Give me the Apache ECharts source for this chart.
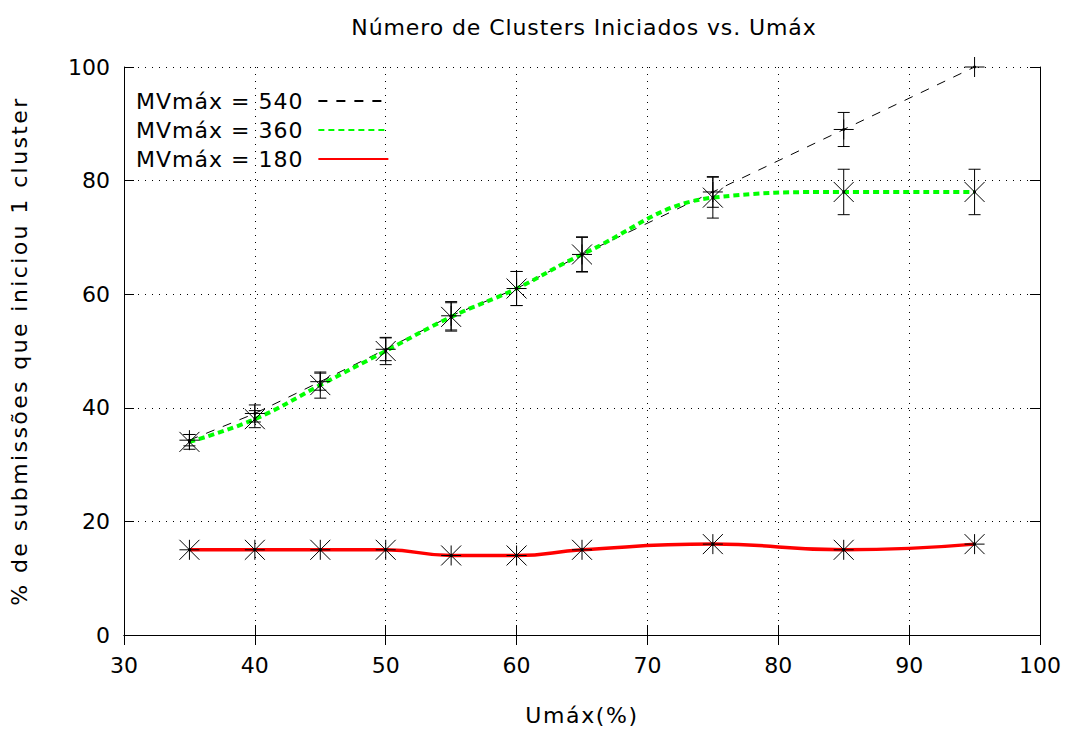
<!DOCTYPE html>
<html>
<head>
<meta charset="utf-8">
<script src="https://cdn.jsdelivr.net/npm/echarts@6/dist/echarts.min.js"></script>
<style>
  html, body { margin: 0; padding: 0; background: #fff; }
  #chart { width: 1071px; height: 731px; }
</style>
</head>
<body>
<div id="chart"></div>
<script>
// Umáx (%) values at which the runs were made
const umax = [35, 40, 45, 50, 55, 60, 65, 75, 85, 95];

// % of submissions that started one cluster, per MVmáx setting
const mv540 = [34.3, 39, 44.6, 50.3, 56.2, 61, 67, 78, 89, 100];
const err540 = [1, 1.5, 1.5, 2, 2.5, 3, 3, 2.7, 3, 0];

const mv360 = [34, 38, 44, 50, 56, 61, 67, 77, 78, 78];
const err360 = [1.3, 1.5, 2.3, 2.4, 2.5, 3, 3.1, 3.6, 4, 4];

const mv180 = [15, 15, 15, 15, 14, 14, 15, 16, 15, 16];

const seriesNames = ['MVmáx = 540', 'MVmáx = 360', 'MVmáx = 180'];
const xTicks = [30, 40, 50, 60, 70, 80, 90, 100];
const yTicks = [0, 20, 40, 60, 80, 100];

const titleText = 'Número de Clusters Iniciados vs. Umáx';
const xName = 'Umáx(%)';
const yName = '% de submissões que iniciou 1 cluster';

const FONT = 'DejaVu Sans';

function pairs(ys) { return umax.map((x, i) => [x, ys[i]]); }
function triples(ys, es) { return umax.map((x, i) => [x, ys[i], es ? es[i] : 0]); }

// Error bars and gnuplot-style point glyphs: 'plus', 'cross', 'star'
function glyphRenderer(kind) {
  return function (params, api) {
    const x = api.value(0), y = api.value(1), e = api.value(2);
    const c = api.coord([x, y]);
    const st = { stroke: '#000', lineWidth: 1 };
    const kids = [];
    if (e > 0) {
      const top = api.coord([x, y + e]);
      const bot = api.coord([x, y - e]);
      const cw = 6;
      kids.push({ type: 'line', shape: { x1: c[0], y1: top[1], x2: c[0], y2: bot[1] }, style: st });
      kids.push({ type: 'line', shape: { x1: c[0] - cw, y1: top[1], x2: c[0] + cw, y2: top[1] }, style: st });
      kids.push({ type: 'line', shape: { x1: c[0] - cw, y1: bot[1], x2: c[0] + cw, y2: bot[1] }, style: st });
    }
    const h = 10;
    if (kind === 'plus' || kind === 'star') {
      kids.push({ type: 'line', shape: { x1: c[0] - h, y1: c[1], x2: c[0] + h, y2: c[1] }, style: st });
      kids.push({ type: 'line', shape: { x1: c[0], y1: c[1] - h, x2: c[0], y2: c[1] + h }, style: st });
    }
    if (kind === 'cross' || kind === 'star') {
      kids.push({ type: 'line', shape: { x1: c[0] - h, y1: c[1] - h, x2: c[0] + h, y2: c[1] + h }, style: st });
      kids.push({ type: 'line', shape: { x1: c[0] - h, y1: c[1] + h, x2: c[0] + h, y2: c[1] - h }, style: st });
    }
    kids.push({ type: 'circle', shape: { cx: c[0], cy: c[1], r: 1.5 }, style: { fill: '#000' } });
    return { type: 'group', children: kids };
  };
}

const gridDots = { show: true, lineStyle: { color: '#000', width: 1, type: [1, 6] } };
const axisEdge = { show: true, lineStyle: { color: '#000', width: 1 } };
const innerTicks = { show: true, inside: true, length: 10, lineStyle: { color: '#000' } };

const chart = echarts.init(document.getElementById('chart'), null, { renderer: 'svg' });
chart.setOption({
  backgroundColor: '#fff',
  animation: false,
  title: {
    text: titleText,
    left: 579, top: 11, textAlign: 'center',
    textStyle: { fontFamily: FONT, fontSize: 22, fontWeight: 'normal', color: '#000' }
  },
  legend: {
    data: seriesNames,
    orient: 'vertical',
    left: 142, top: 85,
    align: 'right',
    itemWidth: 70, itemHeight: 14, itemGap: 7,
    itemStyle: { color: 'transparent', borderColor: 'transparent', borderWidth: 0 },
    textStyle: { fontFamily: FONT, fontSize: 22, color: '#000', padding: [0, 10, 0, 0] }
  },
  grid: { left: 123, right: 31, top: 67, bottom: 92, containLabel: false },
  xAxis: [{
    type: 'value', min: 30, max: 100, interval: 10,
    name: xName, nameLocation: 'middle', nameGap: 69,
    nameTextStyle: { fontFamily: FONT, fontSize: 22, color: '#000' },
    axisLine: axisEdge, axisTick: innerTicks,
    axisLabel: { fontFamily: FONT, fontSize: 22, color: '#000', margin: 19, formatter: v => xTicks.includes(v) ? String(v) : '' },
    splitLine: gridDots
  }, {
    type: 'value', min: 30, max: 100, interval: 10, position: 'top',
    axisLine: axisEdge, axisTick: innerTicks,
    axisLabel: { show: false }, splitLine: { show: false }
  }],
  yAxis: [{
    type: 'value', min: 0, max: 100, interval: 20,
    name: yName, nameLocation: 'middle', nameGap: 94,
    nameTextStyle: { fontFamily: FONT, fontSize: 22, color: '#000' },
    axisLine: axisEdge, axisTick: innerTicks,
    axisLabel: { fontFamily: FONT, fontSize: 22, color: '#000', margin: 14, padding: [5, 0, 0, 0], formatter: v => yTicks.includes(v) ? String(v) : '' },
    splitLine: gridDots
  }, {
    type: 'value', min: 0, max: 100, interval: 20, position: 'right',
    axisLine: axisEdge, axisTick: innerTicks,
    axisLabel: { show: false }, splitLine: { show: false }
  }],
  series: [
    {
      name: seriesNames[0], type: 'line', data: pairs(mv540), symbol: 'none', smooth: false,
      lineStyle: { color: '#000', width: 1, type: [9, 9] }, itemStyle: { color: '#000' }, z: 2
    },
    {
      name: seriesNames[1], type: 'line', data: pairs(mv360), symbol: 'none', smooth: 0.4,
      lineStyle: { color: '#00ff00', width: 4, type: [6, 4] }, itemStyle: { color: '#00ff00' }, z: 3
    },
    {
      name: seriesNames[2], type: 'line', data: pairs(mv180), symbol: 'none', smooth: 0.5,
      lineStyle: { color: '#ff0000', width: 3.5 }, itemStyle: { color: '#ff0000' }, z: 3
    },
    { type: 'custom', data: triples(mv540, err540), renderItem: glyphRenderer('plus'), encode: { x: 0, y: 1 }, z: 5, silent: true },
    { type: 'custom', data: triples(mv360, err360), renderItem: glyphRenderer('cross'), encode: { x: 0, y: 1 }, z: 5, silent: true },
    { type: 'custom', data: triples(mv180, null), renderItem: glyphRenderer('star'), encode: { x: 0, y: 1 }, z: 5, silent: true }
  ]
});

// Looser tracking for the longer captions, like the bitmap terminal fonts
const tracking = {};
tracking[titleText] = 0.9;
tracking[xName] = 1.6;
tracking[yName] = 2.4;
seriesNames.forEach(n => { tracking[n] = 1; });
function applyTracking() {
  document.querySelectorAll('#chart svg text').forEach(t => {
    const s = tracking[t.textContent];
    if (s) t.setAttribute('letter-spacing', s + 'px');
  });
}
chart.on('finished', applyTracking);
applyTracking();
</script>
</body>
</html>
